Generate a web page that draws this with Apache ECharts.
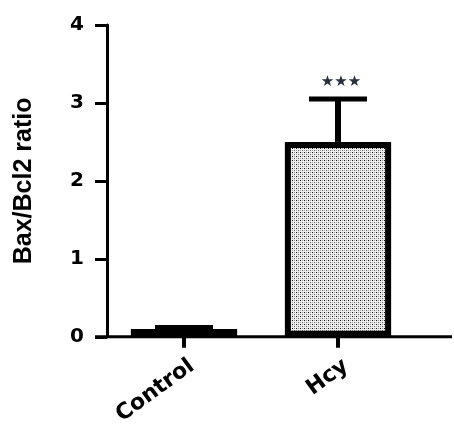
<!DOCTYPE html>
<html>
<head>
<meta charset="utf-8">
<script src="https://cdn.jsdelivr.net/npm/echarts@6/dist/echarts.min.js"></script>
<style>html,body{margin:0;padding:0;background:#fff}#c{width:454px;height:428px}</style>
</head>
<body>
<div id="c"></div>
<script>
var categories = ['Control', 'Hcy'];
var means = [0.1, 2.5];
var errors = [0.02, 0.55];
var significance = ['', '★★★'];
var yTicks = [0, 1, 2, 3, 4];

var tile = document.createElement('canvas');
tile.width = 4; tile.height = 4;
var g = tile.getContext('2d');
g.fillStyle = '#eeeeee'; g.fillRect(0, 0, 4, 4);
g.fillStyle = '#111'; g.fillRect(0, 0, 1, 1);
g.fillStyle = '#666'; g.fillRect(2, 2, 1, 1);
g.fillStyle = '#999'; g.fillRect(2, 0, 1, 1);
g.fillStyle = '#aaa'; g.fillRect(0, 2, 1, 1);

var chart = echarts.init(document.getElementById('c'), null, {renderer: 'canvas'});
var errData = categories.map(function (c, i) { return [i, means[i], errors[i], significance[i]]; });
var grid = {left: 107, right: 39, top: 25, bottom: 89};
var font = 'Liberation Sans, Arial';
var wide = 'DejaVu Sans';
var option = {
  animation: false,
  backgroundColor: '#fff',
  grid: grid,
  xAxis: {
    type: 'category',
    data: categories,
    axisLine: {show: false},
    axisTick: {show: true, alignWithLabel: true, length: 11, lineStyle: {color: '#000', width: 4}},
    axisLabel: {rotate: 36, margin: 33, color: '#000', fontFamily: wide, fontWeight: 'bold', fontSize: 22, padding: [0, -10, 0, 0]}
  },
  yAxis: {
    type: 'value',
    min: yTicks[0], max: yTicks[yTicks.length - 1], interval: 1,
    name: 'Bax/Bcl2 ratio',
    nameLocation: 'middle',
    nameGap: 70,
    nameTextStyle: {color: '#000', fontFamily: font, fontWeight: 'bold', fontSize: 25},
    splitLine: {show: false},
    axisLine: {show: true, lineStyle: {color: '#000', width: 3}},
    axisTick: {show: true, length: 12, lineStyle: {color: '#000', width: 3}},
    axisLabel: {margin: 23, color: '#000', fontFamily: wide, fontWeight: 'bold', fontSize: 20}
  },
  series: [{
    type: 'bar',
    data: means,
    barWidth: '69%',
    itemStyle: {color: {image: tile, repeat: 'repeat'}, borderColor: '#000', borderWidth: 6},
    z: 2
  }, {
    type: 'custom',
    data: errData,
    z: 3,
    renderItem: function (params, api) {
      var top = api.coord([api.value(0), api.value(1) + api.value(2)]);
      var base = api.coord([api.value(0), api.value(1)]);
      var half = 29;
      return {
        type: 'group',
        children: [
          {type: 'line', shape: {x1: base[0], y1: base[1], x2: top[0], y2: top[1]}, style: {stroke: '#000', lineWidth: 6}},
          {type: 'line', shape: {x1: top[0] - half, y1: top[1], x2: top[0] + half, y2: top[1]}, style: {stroke: '#000', lineWidth: 5}},
          {type: 'text', x: top[0] + 3, y: top[1] - 9, style: {text: api.value(3), fill: '#2a2f3a', font: '15px DejaVu Sans', align: 'center', verticalAlign: 'bottom'}}
        ]
      };
    }
  }]
};
chart.setOption(option);
var y0 = chart.convertToPixel({yAxisIndex: 0}, 0);
chart.setOption({
  graphic: [{type: 'line', shape: {x1: grid.left - 12, y1: y0, x2: 452, y2: y0}, style: {stroke: '#000', lineWidth: 3}, z: 10}]
});
</script>
</body>
</html>
